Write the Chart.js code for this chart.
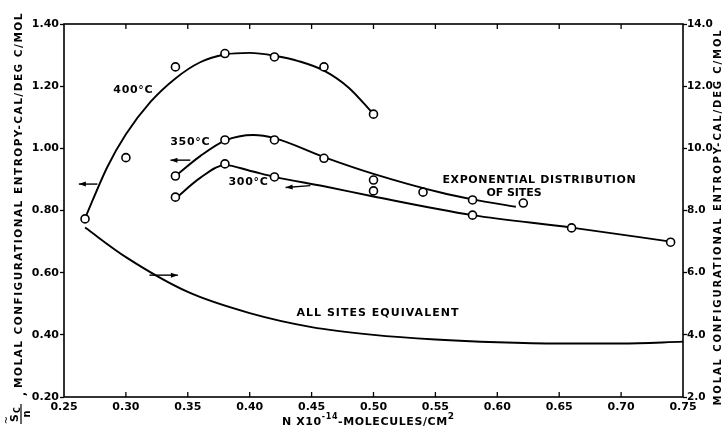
<!DOCTYPE html>
<html>
<head>
<meta charset="utf-8">
<script src="https://cdn.jsdelivr.net/npm/chart.js@4.4.1/dist/chart.umd.min.js"></script>
<style>
  body { margin: 0; background: #fff; }
  canvas { display: block; }
</style>
</head>
<body>
<canvas id="c" width="725" height="432"></canvas>
<script>
// tick labels
var xTicks = [0.25, 0.30, 0.35, 0.40, 0.45, 0.50, 0.55, 0.60, 0.65, 0.70, 0.75];
var yTicks = [0.20, 0.40, 0.60, 0.80, 1.00, 1.20, 1.40];
var y2Ticks = [2, 4, 6, 8, 10, 12, 14];

// measured points
var pt400X = [0.267, 0.30, 0.34, 0.38, 0.42, 0.46, 0.50];
var pt400Y = [0.773, 0.970, 1.262, 1.305, 1.294, 1.262, 1.110];
var pt350X = [0.34, 0.38, 0.42, 0.46, 0.50, 0.54, 0.58, 0.621];
var pt350Y = [0.911, 1.027, 1.027, 0.968, 0.898, 0.859, 0.834, 0.824];
var pt300X = [0.34, 0.38, 0.42, 0.50, 0.58, 0.66, 0.74];
var pt300Y = [0.843, 0.950, 0.908, 0.863, 0.785, 0.744, 0.698];

// drawn curves
var c400X = [0.267, 0.285, 0.30, 0.32, 0.34, 0.36, 0.38, 0.40, 0.42, 0.44, 0.46, 0.48, 0.50];
var c400Y = [0.775, 0.94, 1.045, 1.15, 1.225, 1.277, 1.302, 1.307, 1.298, 1.28, 1.25, 1.195, 1.11];
var c350X = [0.34, 0.36, 0.38, 0.403, 0.42, 0.46, 0.50, 0.555, 0.58, 0.615];
var c350Y = [0.911, 0.975, 1.025, 1.043, 1.033, 0.972, 0.918, 0.857, 0.836, 0.812];
var c300X = [0.34, 0.36, 0.38, 0.40, 0.42, 0.46, 0.50, 0.58, 0.66, 0.74];
var c300Y = [0.838, 0.905, 0.946, 0.928, 0.908, 0.878, 0.845, 0.785, 0.745, 0.70];
var allX = [0.267, 0.30, 0.35, 0.40, 0.45, 0.50, 0.55, 0.60, 0.65, 0.70, 0.75];
var allY = [0.745, 0.65, 0.538, 0.47, 0.425, 0.40, 0.385, 0.376, 0.372, 0.372, 0.378];

function pts(xs, ys){
  return xs.map(function(x, i){ return {x: x, y: ys[i]}; });
}

function pointSet(xs, ys){
  return {
    data: pts(xs, ys), showLine: false,
    pointRadius: 4, pointBorderWidth: 1.6,
    pointBackgroundColor: '#fff', pointBorderColor: '#000'
  };
}
function curveSet(xs, ys){
  return {
    data: pts(xs, ys), showLine: true, pointRadius: 0,
    borderColor: '#000', borderWidth: 1.9,
    cubicInterpolationMode: 'monotone'
  };
}

var FONT = '"DejaVu Sans", sans-serif';

function fitText(ctx, txt, x, y, w){
  ctx.letterSpacing = '0px';
  var m = ctx.measureText(txt).width;
  var ls = (w - m) / txt.length;
  ctx.letterSpacing = ls + 'px';
  ctx.textAlign = 'left';
  ctx.fillText(txt, x - w / 2, y);
  ctx.letterSpacing = '0px';
}

function arrow(ctx, x1, y1, x2, y2){
  var a = Math.atan2(y2 - y1, x2 - x1);
  ctx.beginPath();
  ctx.moveTo(x1, y1); ctx.lineTo(x2, y2);
  ctx.stroke();
  ctx.beginPath();
  ctx.moveTo(x2, y2);
  ctx.lineTo(x2 - 7 * Math.cos(a) + 2.5 * Math.sin(a), y2 - 7 * Math.sin(a) - 2.5 * Math.cos(a));
  ctx.lineTo(x2 - 7 * Math.cos(a) - 2.5 * Math.sin(a), y2 - 7 * Math.sin(a) + 2.5 * Math.cos(a));
  ctx.closePath();
  ctx.fill();
}

var decor = {
  id: 'decor',
  afterDraw: function(chart){
    var ctx = chart.ctx, a = chart.chartArea;
    var sx = chart.scales.x, sy = chart.scales.y;
    function px(v){ return sx.getPixelForValue(v); }
    function py(v){ return sy.getPixelForValue(v); }
    ctx.save();
    ctx.strokeStyle = '#000'; ctx.fillStyle = '#000';
    // frame
    ctx.lineWidth = 1.6;
    ctx.strokeRect(a.left, a.top, a.right - a.left, a.bottom - a.top);
    // inward ticks top & bottom
    ctx.lineWidth = 1.3;
    xTicks.slice(1, -1).forEach(function(v){
      var x = px(v);
      ctx.beginPath();
      ctx.moveTo(x, a.bottom); ctx.lineTo(x, a.bottom - 5);
      ctx.moveTo(x, a.top); ctx.lineTo(x, a.top + 5);
      ctx.stroke();
    });
    // curve labels
    ctx.textBaseline = 'middle';
    ctx.font = 'bold 11px ' + FONT;
    fitText(ctx, '400°C', px(0.306), py(1.188), 40);
    fitText(ctx, '350°C', px(0.352), py(1.02), 40);
    fitText(ctx, '300°C', px(0.399), py(0.892), 40);
    fitText(ctx, 'EXPONENTIAL DISTRIBUTION', px(0.634), py(0.898), 194);
    fitText(ctx, 'OF SITES', px(0.6135), py(0.856), 55);
    fitText(ctx, 'ALL SITES EQUIVALENT', px(0.5036), py(0.470), 163);
    // arrows toward the axis they refer to
    ctx.lineWidth = 1.4;
    arrow(ctx, px(0.277), py(0.885), px(0.262), py(0.885));
    arrow(ctx, px(0.352), py(0.962), px(0.336), py(0.962));
    arrow(ctx, px(0.449), py(0.880), px(0.429), py(0.874));
    arrow(ctx, px(0.319), py(0.592), px(0.342), py(0.592));
    // x axis title
    ctx.textBaseline = 'alphabetic';
    ctx.textAlign = 'left';
    ctx.letterSpacing = '0.6px';
    var x = 282, base = 425;
    ctx.font = 'bold 11px ' + FONT;
    ctx.fillText('N X10', x, base); x += ctx.measureText('N X10').width;
    ctx.font = 'bold 8px ' + FONT;
    ctx.fillText('-14', x, base - 6); x += ctx.measureText('-14').width;
    ctx.font = 'bold 11px ' + FONT;
    ctx.fillText('-MOLECULES/CM', x, base); x += ctx.measureText('-MOLECULES/CM').width;
    ctx.font = 'bold 9px ' + FONT;
    ctx.fillText('2', x, base - 6);
    ctx.letterSpacing = '0px';
    // left y title
    ctx.save();
    ctx.translate(19, 0);
    ctx.rotate(-Math.PI / 2);
    ctx.font = 'bold 10.5px ' + FONT;
    ctx.textBaseline = 'middle';
    fitText(ctx, 'MOLAL CONFIGURATIONAL ENTROPY-CAL/DEG C/MOL', -200, 0, 376);
    ctx.textAlign = 'center';
    ctx.fillText(',', -394, 3);
    ctx.textBaseline = 'alphabetic';
    ctx.font = 'bold 11px ' + FONT;
    ctx.fillText('S', -418, -1);
    ctx.font = 'bold 8px ' + FONT;
    ctx.fillText('C', -410, 1);
    ctx.font = '10px ' + FONT;
    ctx.fillText('~', -420, -9);
    ctx.font = 'bold 10px ' + FONT;
    ctx.fillText('n', -414, 11);
    ctx.lineWidth = 1.2;
    ctx.beginPath(); ctx.moveTo(-424, 2); ctx.lineTo(-404, 2); ctx.stroke();
    ctx.restore();
    // right y title
    ctx.save();
    ctx.translate(718, 0);
    ctx.rotate(-Math.PI / 2);
    ctx.font = 'bold 10px ' + FONT;
    ctx.textBaseline = 'middle';
    fitText(ctx, 'MOLAL CONFIGURATIONAL ENTROPY-CAL/DEG C/MOL', -217, 0, 377);
    ctx.restore();
    ctx.restore();
  }
};

var tickFont = { family: FONT, size: 11, weight: 'bold' };

new Chart(document.getElementById('c'), {
  type: 'scatter',
  data: {
    datasets: [
      pointSet(pt400X, pt400Y),
      pointSet(pt350X, pt350Y),
      pointSet(pt300X, pt300Y),
      curveSet(c400X, c400Y),
      curveSet(c350X, c350Y),
      curveSet(c300X, c300Y),
      curveSet(allX, allY)
    ]
  },
  options: {
    responsive: false,
    animation: false,
    devicePixelRatio: 1,
    layout: { padding: { top: 24, left: 0, right: 0, bottom: 0 } },
    plugins: { legend: { display: false }, tooltip: { enabled: false } },
    scales: {
      x: {
        type: 'linear', min: 0.25, max: 0.75,
        afterBuildTicks: function(s){ s.ticks = xTicks.map(function(v){ return {value: v}; }); },
        afterFit: function(s){ s.height = 35; },
        ticks: { font: tickFont, color: '#000', padding: 4, maxRotation: 0,
                 callback: function(v){ return v.toFixed(2); } },
        grid: { drawOnChartArea: false, drawTicks: false },
        border: { display: false }
      },
      y: {
        position: 'left', min: 0.2, max: 1.4,
        afterBuildTicks: function(s){ s.ticks = yTicks.map(function(v){ return {value: v}; }); },
        afterFit: function(s){ s.width = 64; },
        ticks: { font: tickFont, color: '#000', padding: 1,
                 callback: function(v){ return v.toFixed(2); } },
        grid: { drawOnChartArea: false, tickLength: 4, tickColor: '#000', tickWidth: 1.3 },
        border: { display: false }
      },
      y2: {
        position: 'right', min: 2, max: 14,
        afterBuildTicks: function(s){ s.ticks = y2Ticks.map(function(v){ return {value: v}; }); },
        afterFit: function(s){ s.width = 42; },
        ticks: { font: { family: FONT, size: 10.5, weight: 'bold' }, color: '#000', padding: 0,
                 callback: function(v){ return v.toFixed(1); } },
        grid: { drawOnChartArea: false, tickLength: 4, tickColor: '#000', tickWidth: 1.3 },
        border: { display: false }
      }
    }
  },
  plugins: [decor]
});
</script>
</body>
</html>
